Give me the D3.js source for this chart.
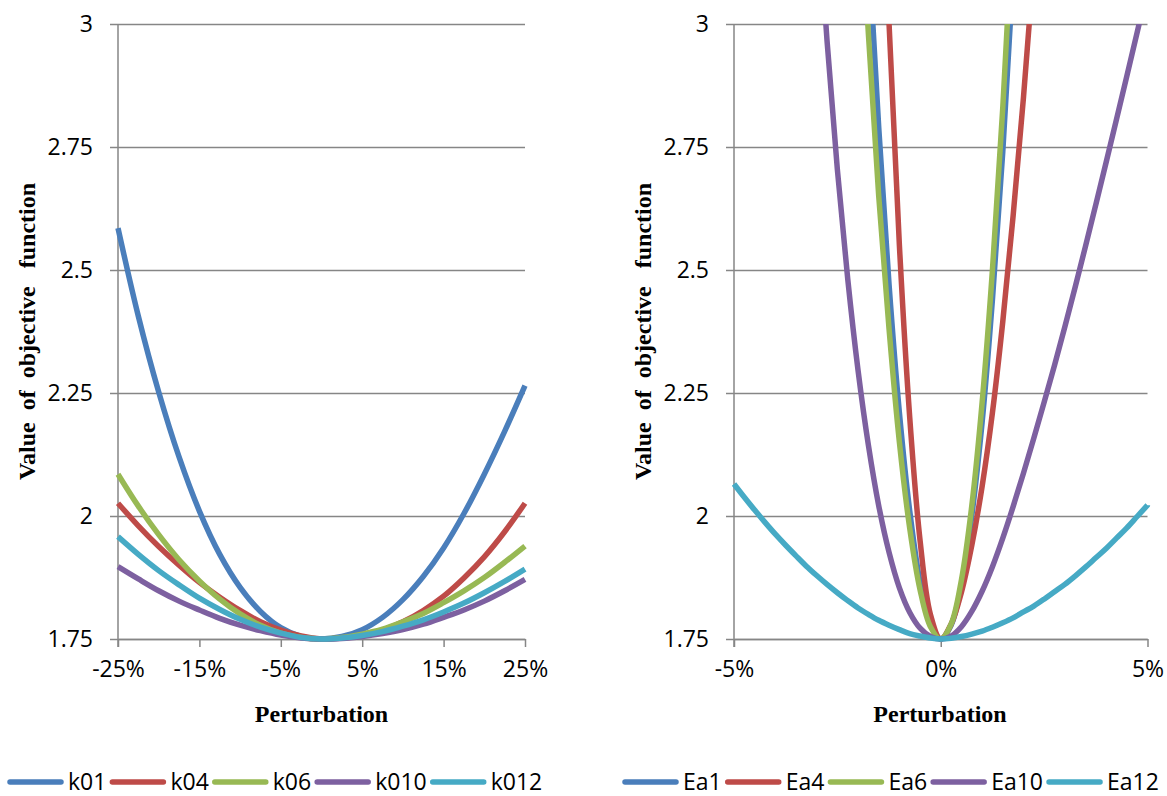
<!DOCTYPE html>
<html><head><meta charset="utf-8">
<script src="https://cdn.jsdelivr.net/npm/d3@7/dist/d3.min.js"></script>
<style>
html,body{margin:0;padding:0;background:#fff;}
svg{display:block;}
</style></head>
<body><svg id="chart" width="1167" height="796"></svg>
<script>
// ---------------- data ----------------
const yTicks = [1.75, 2, 2.25, 2.5, 2.75, 3];
const yTickLabels = ["1.75", "2", "2.25", "2.5", "2.75", "3"];

// Left panel (rate constants k0)
const leftX = [-25,-22.5,-20,-17.5,-15,-12.5,-10,-7.5,-5,-2.5,0,2.5,5,7.5,10,12.5,15,17.5,20,22.5,25];
const leftTicks = [-25,-15,-5,5,15,25];
const leftTickLabels = ["-25%","-15%","-5%","5%","15%","25%"];
const leftNames = ["k01","k04","k06","k010","k012"];
const k01  = [2.585,2.406,2.252,2.12,2.01,1.922,1.855,1.806,1.773,1.755,1.75,1.755,1.769,1.794,1.83,1.877,1.935,2.005,2.085,2.172,2.265];
const k04  = [2.026,1.98,1.938,1.9,1.865,1.835,1.808,1.785,1.768,1.756,1.75,1.752,1.757,1.768,1.785,1.808,1.837,1.874,1.917,1.968,2.026];
const k06  = [2.085,2.02,1.962,1.911,1.868,1.831,1.801,1.778,1.762,1.753,1.75,1.753,1.76,1.77,1.785,1.802,1.824,1.848,1.875,1.906,1.939];
const k010 = [1.897,1.872,1.848,1.827,1.809,1.792,1.778,1.767,1.758,1.752,1.75,1.751,1.755,1.761,1.769,1.78,1.794,1.809,1.827,1.848,1.871];
const k012 = [1.958,1.922,1.889,1.86,1.833,1.81,1.79,1.774,1.762,1.753,1.75,1.752,1.757,1.765,1.776,1.789,1.805,1.823,1.844,1.867,1.892];

// Right panel (activation energies Ea)
const rightX = [-5,-4.75,-4.5,-4.25,-4,-3.75,-3.5,-3.25,-3,-2.75,-2.5,-2.25,-2,-1.75,-1.5,-1.25,-1,-0.75,-0.5,-0.25,0,
                0.25,0.5,0.75,1,1.25,1.5,1.75,2,2.25,2.5,2.75,3,3.25,3.5,3.75,4,4.25,4.5,4.75,5];
const rightTicks = [-5,0,5];
const rightTickLabels = ["-5%","0%","5%"];
const rightNames = ["Ea1","Ea4","Ea6","Ea10","Ea12"];
const Ea1  = [13.25,12.13,11.07,10.06,9.11,8.22,7.39,6.61,5.89,5.23,4.63,4.08,3.59,3.16,2.79,2.47,2.21,2.01,1.865,1.779,1.75,
              1.778,1.86,2.0,2.19,2.44,2.74,3.10,3.51,3.98,4.5,5.08,5.71,6.40,7.14,7.94,8.79,9.70,10.66,11.68,12.75];
const Ea4  = [21.75,19.8,17.95,16.2,14.55,13.0,11.55,10.2,8.95,7.8,6.75,5.8,4.95,4.2,3.55,3.0,2.55,2.2,1.95,1.80,1.75,
              1.78,1.845,1.94,2.06,2.21,2.395,2.61,2.85,3.12,3.43,3.76,4.12,4.51,4.94,5.39,5.87,6.38,6.93,7.5,8.1];
const Ea6  = [11.75,10.78,9.85,8.98,8.15,7.38,6.65,5.98,5.35,4.78,4.25,3.78,3.35,2.98,2.65,2.38,2.15,1.975,1.85,1.775,1.75,
              1.78,1.87,2.02,2.23,2.5,2.83,3.22,3.67,4.18,4.75,5.38,6.07,6.82,7.63,8.5,9.43,10.42,11.47,12.58,13.75];
const Ea10 = [7.58,6.83,6.146,5.526,4.966,4.463,4.015,3.618,3.269,2.966,2.704,2.482,2.296,2.144,2.021,1.926,1.854,1.804,1.772,1.755,1.75,
              1.756,1.775,1.806,1.847,1.897,1.955,2.019,2.087,2.158,2.231,2.306,2.384,2.465,2.548,2.633,2.719,2.806,2.894,2.983,3.073];
const Ea12 = [2.065,2.038,2.012,1.987,1.963,1.9405,1.919,1.898,1.879,1.861,1.844,1.828,1.813,1.8,1.788,1.778,1.769,1.761,1.756,1.752,1.75,
              1.7515,1.755,1.76,1.766,1.774,1.783,1.793,1.805,1.817,1.831,1.846,1.861,1.878,1.896,1.915,1.934,1.955,1.976,1.999,2.022];

const colors = ["#4A7EBB","#BE4B48","#98B954","#7D60A0","#46AAC5"];

// ---------------- drawing ----------------
const svg = d3.select("#chart");
const yTop = 24, yBottom = 639;

function panel(id, x0, x1, xDomain, xVals, seriesList, names, ticks, tickLabels, titleX, legendX0) {
  const g = svg.append("g");
  const x = d3.scaleLinear().domain(xDomain).range([x0, x1]);
  const y = d3.scaleLinear().domain([1.75, 3]).range([yBottom, yTop]);

  // horizontal gridlines (with outer tick marks)
  const yAxis = d3.axisLeft(y).tickValues(yTicks).tickFormat((d,i)=>yTickLabels[i])
      .tickSizeInner(-(x1 - x0)).tickSizeOuter(0).tickPadding(0);
  const ya = g.append("g").attr("transform", `translate(${x0},0)`).call(yAxis);
  ya.select(".domain").remove();
  ya.selectAll(".tick line").attr("x1", -8).attr("x2", x1 - x0)
     .attr("stroke", "#868686").attr("stroke-width", 1.5);
  ya.selectAll(".tick text").attr("x", -25).attr("dy", "0.34em")
     .attr("font-family", "'Open Sans', sans-serif").attr("font-size", 23).attr("fill", "#000");

  // vertical axis line
  g.append("line").attr("x1", x0).attr("x2", x0).attr("y1", yTop).attr("y2", yBottom + 8)
     .attr("stroke", "#868686").attr("stroke-width", 1.5);

  // x axis
  const xAxis = d3.axisBottom(x).tickValues(ticks).tickFormat((d,i)=>tickLabels[i])
      .tickSizeInner(8).tickSizeOuter(0).tickPadding(14);
  const xa = g.append("g").attr("transform", `translate(0,${yBottom})`).call(xAxis);
  xa.select(".domain").attr("stroke", "#868686").attr("stroke-width", 1.5);
  xa.selectAll(".tick line").attr("stroke", "#868686").attr("stroke-width", 1.5);
  xa.selectAll(".tick text").attr("font-family", "'Open Sans', sans-serif").attr("font-size", 23).attr("fill", "#000");

  // clip
  g.append("clipPath").attr("id", "clip" + id).append("rect")
    .attr("x", x0 - 3).attr("y", yTop).attr("width", x1 - x0 + 6).attr("height", yBottom - yTop + 4);

  const line = d3.line().x((d,i)=>x(xVals[i])).y(d=>y(d)).curve(d3.curveCatmullRom);
  const lg = g.append("g").attr("clip-path", `url(#clip${id})`);
  seriesList.forEach((s, i) => {
    lg.append("path").attr("d", line(s)).attr("fill", "none")
      .attr("stroke", colors[i]).attr("stroke-width", 5.5).attr("stroke-linejoin", "round");
  });

  // axis titles
  g.append("text").attr("x", titleX).attr("y", 722).attr("text-anchor", "middle")
    .attr("font-family", "'Liberation Serif', 'Times New Roman', serif").attr("font-weight", "bold")
    .attr("font-size", 24).text("Perturbation");
  g.append("text").attr("transform", `translate(${x0 - 83},${(yTop + yBottom) / 2}) rotate(-90)`)
    .attr("text-anchor", "middle").style("white-space", "pre")
    .attr("font-family", "'Liberation Serif', 'Times New Roman', serif").attr("font-weight", "bold")
    .attr("font-size", 24).text("Value  of  objective   function");

  // legend
  let lx = legendX0;
  names.forEach((n, i) => {
    g.append("line").attr("x1", lx).attr("x2", lx + 51).attr("y1", 782).attr("y2", 782)
      .attr("stroke", colors[i]).attr("stroke-width", 5.5).attr("stroke-linecap", "round");
    const t = g.append("text").attr("x", lx + 58).attr("y", 790)
      .attr("font-family", "'Open Sans', sans-serif").attr("font-size", 23).attr("fill", "#000").text(n);
    lx = lx + 58 + t.node().getComputedTextLength() + 6;
  });
}

panel("L", 118, 525, [-25, 25], leftX, [k01, k04, k06, k010, k012], leftNames, leftTicks, leftTickLabels, 321.5, 10);
panel("R", 734, 1147.5, [-5, 5], rightX, [Ea1, Ea4, Ea6, Ea10, Ea12], rightNames, rightTicks, rightTickLabels, 940, 625);
</script>
</body></html>
